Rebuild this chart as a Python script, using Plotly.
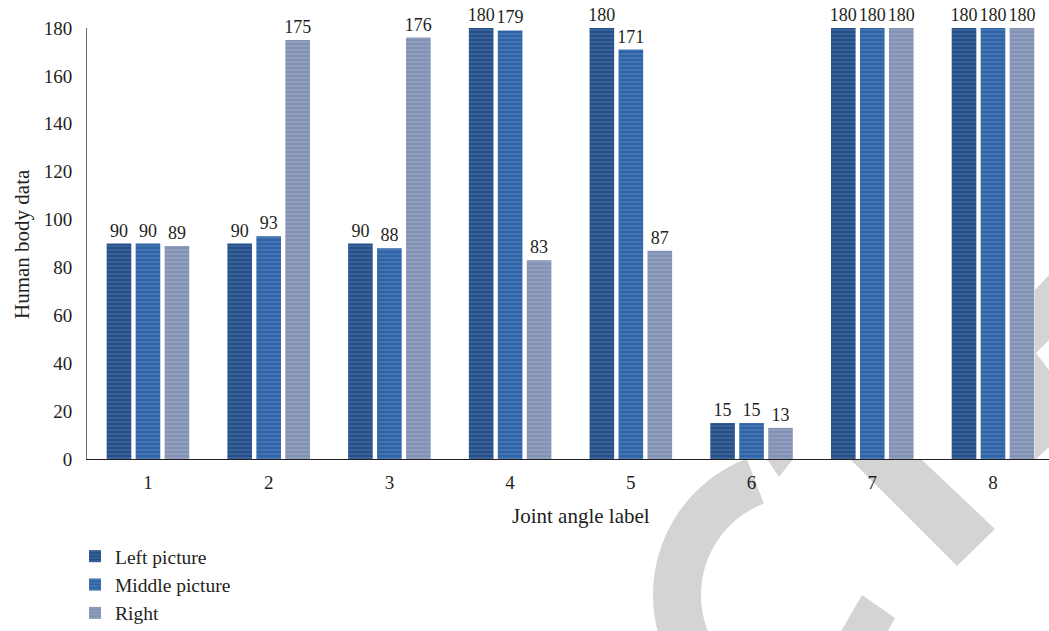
import numpy as np
import plotly.graph_objects as go

categories = ["1", "2", "3", "4", "5", "6", "7", "8"]
left_picture = [90, 90, 90, 180, 180, 15, 180, 180]
middle_picture = [90, 93, 88, 179, 171, 15, 180, 180]
right_picture = [89, 175, 176, 83, 87, 13, 180, 180]
series_names = ["Left picture", "Middle picture", "Right"]
y_ticks = [0, 20, 40, 60, 80, 100, 120, 140, 160, 180]

W, H = 1049, 631
ML, MR, MT, MB = 87, 0, 28, 172
PW, PH = W - ML - MR, H - MT - MB

def px(x):
    return (x - ML) / PW

def py(y):
    return (H - MB - y) / PH

FONT = "Liberation Serif"
TXT = "#231f20"

colors = ["#244f88", "#2e63a6", "#8392b4"]
stripe = ["rgba(150,180,220,0.6)", "rgba(160,190,230,0.6)", "rgba(205,210,225,0.6)"]

fig = go.Figure()
for name, vals, c, s in zip(series_names, [left_picture, middle_picture, right_picture], colors, stripe):
    fig.add_trace(go.Bar(
        x=categories, y=vals, name=name,
        marker=dict(color=c, line=dict(width=0),
                    pattern=dict(shape="-", fgcolor=s, size=4, solidity=0.3, fillmode="overlay")),
        text=[str(v) for v in vals], textposition="outside", cliponaxis=False,
        constraintext="none",
        textfont=dict(family=FONT, size=18, color=TXT),
    ))

# watermark pieces (decorative, pixel geometry)
wm = "rgb(212,212,212)"
def poly(points):
    d = "M " + " L ".join(f"{px(a):.5f},{py(b):.5f}" for a, b in points) + " Z"
    return dict(type="path", xref="paper", yref="paper", path=d, fillcolor=wm,
                line=dict(width=0), layer="below")

cx, cy, R, r = 799, 595, 146, 98
ang = np.radians(np.linspace(249, 100, 60))
outer = [(cx + R * np.cos(a), cy + R * np.sin(a)) for a in ang]
inner = [(cx + r * np.cos(a), cy + r * np.sin(a)) for a in ang[::-1]]
shapes = [
    poly(outer + inner),
    poly([(862, 595), (895, 618), (883, 640), (836, 640)]),
    poly([(767, 459), (793, 459), (779, 477)]),
    poly([(850, 459), (921, 459), (995, 529), (957, 566)]),
    poly([(1035, 290), (1049, 275), (1049, 340), (1036, 353), (1035, 353)]),
    poly([(1035, 353), (1036, 353), (1049, 370), (1049, 447), (1035, 460)]),
]

fig.update_layout(
    width=W, height=H,
    margin=dict(l=ML, r=MR, t=MT, b=MB, autoexpand=False),
    paper_bgcolor="white", plot_bgcolor="rgba(0,0,0,0)",
    barmode="group", bargap=0.28, bargroupgap=0.15,
    font=dict(family=FONT, size=19, color=TXT),
    shapes=shapes,
    showlegend=True,
    legend=dict(x=px(75), y=py(537), xanchor="left", yanchor="top",
                font=dict(family=FONT, size=19.5, color=TXT),
                bgcolor="rgba(0,0,0,0)", tracegroupgap=0),
    xaxis=dict(range=[-0.505, 7.464], showline=True, linecolor="#231f20", linewidth=1,
               ticks="", showgrid=False, zeroline=False, ticklabelstandoff=6,
               tickfont=dict(family=FONT, size=19, color=TXT)),
    yaxis=dict(range=[0, 180], tickvals=y_ticks, showline=True, linecolor="#6d6e71", linewidth=1,
               ticks="", showgrid=False, zeroline=False, ticklabelstandoff=10,
               tickfont=dict(family=FONT, size=19, color=TXT)),
    annotations=[
        dict(text="Joint angle label", x=px(581), y=py(516), xref="paper", yref="paper",
             xanchor="center", yanchor="middle",
             showarrow=False, font=dict(family=FONT, size=21, color=TXT)),
        dict(text="Human body data", x=px(22), y=py(244), xref="paper", yref="paper",
             xanchor="center", yanchor="middle",
             showarrow=False, textangle=-90, font=dict(family=FONT, size=21, color=TXT)),
    ],
)

fig.write_html("out.html")
